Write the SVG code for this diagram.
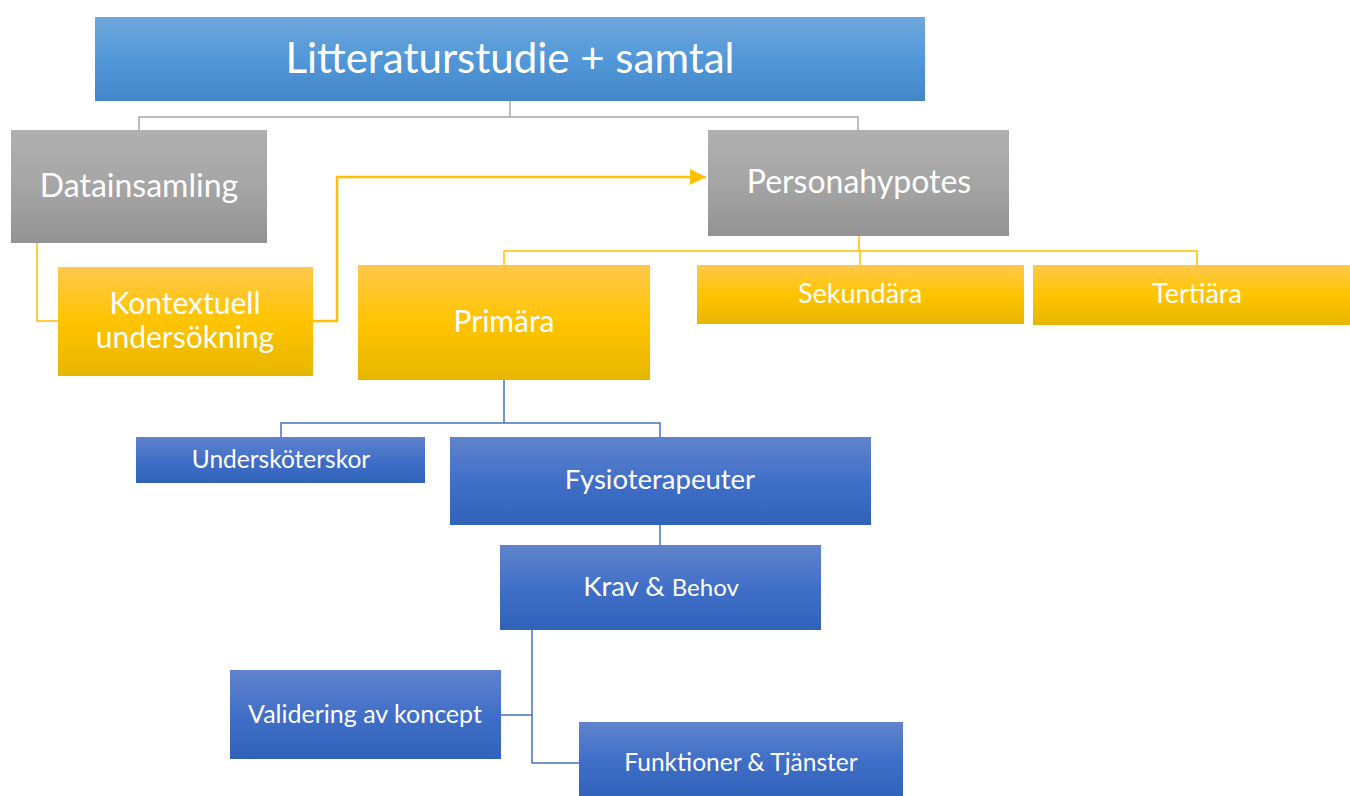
<svg xmlns="http://www.w3.org/2000/svg" width="1350" height="796" viewBox="0 0 1350 796">
<defs>
<linearGradient id="gBlueTop" x1="0" y1="0" x2="0" y2="1"><stop offset="0" stop-color="#6fa8dc"/><stop offset="0.5" stop-color="#5298d8"/><stop offset="1" stop-color="#4286c6"/></linearGradient>
<linearGradient id="gGray" x1="0" y1="0" x2="0" y2="1"><stop offset="0" stop-color="#b0b0b0"/><stop offset="0.5" stop-color="#a5a5a5"/><stop offset="1" stop-color="#939393"/></linearGradient>
<linearGradient id="gYel" x1="0" y1="0" x2="0" y2="1"><stop offset="0" stop-color="#ffc84c"/><stop offset="0.5" stop-color="#ffc400"/><stop offset="1" stop-color="#e6b600"/></linearGradient>
<linearGradient id="gBlue" x1="0" y1="0" x2="0" y2="1"><stop offset="0" stop-color="#6084cc"/><stop offset="0.5" stop-color="#416fc8"/><stop offset="1" stop-color="#3062b8"/></linearGradient>
<marker id="arr" viewBox="0 0 10 10" refX="10" refY="5" markerWidth="16" markerHeight="16" markerUnits="userSpaceOnUse" orient="auto"><path d="M0,0 L10,5 L0,10 z" fill="#ffc000"/></marker>
</defs>
<style>
text{font-family:"Lato","Liberation Sans",sans-serif;fill:#ffffff;text-anchor:middle}
.cg{fill:none;stroke:#a6a6a6;stroke-width:1.5}
.cy{fill:none;stroke:#ffc000;stroke-width:1.5}
.cy2{fill:none;stroke:#ffc000;stroke-width:2.5}
.cb{fill:none;stroke:#4472c4;stroke-width:1.5}
</style>
<rect width="1350" height="796" fill="#ffffff"/>
<g id="connectors">
<path class="cg" d="M510,101 V117 M139,130 V117 H858 V130"/>
<path class="cy" d="M37,243 V321 H58"/>
<path class="cy2" d="M313,321 H337 V177 H706" marker-end="url(#arr)"/>
<path class="cy" d="M859,236 V251 M504,265 V251 H1197 V265 M860,251 V265"/>
<path class="cb" d="M504,380 V423 M281,437 V423 H660 V437"/>
<path class="cb" d="M660,525 V545"/>
<path class="cb" d="M532,630 V763 H579 M501,715 H532"/>
</g>
<g id="n-litteratur"><rect x="95" y="17" width="830" height="84" fill="url(#gBlueTop)"/><text x="510" y="73" font-size="42">Litteraturstudie + samtal</text></g>
<g id="n-datainsamling"><rect x="11" y="130" width="256" height="113" fill="url(#gGray)"/><text x="139" y="197" font-size="32">Datainsamling</text></g>
<g id="n-personahypotes"><rect x="708" y="130" width="301" height="106" fill="url(#gGray)"/><text x="859" y="193" font-size="32">Personahypotes</text></g>
<g id="n-kontextuell"><rect x="58" y="267" width="255" height="109" fill="url(#gYel)"/><text x="185" y="314" font-size="30">Kontextuell</text><text x="185" y="348" font-size="30">undersökning</text></g>
<g id="n-primara"><rect x="358" y="265" width="292" height="115" fill="url(#gYel)"/><text x="504" y="332" font-size="30">Primära</text></g>
<g id="n-sekundara"><rect x="697" y="265" width="327" height="59" fill="url(#gYel)"/><text x="860" y="303" font-size="27">Sekundära</text></g>
<g id="n-tertiara"><rect x="1033" y="265" width="317" height="60" fill="url(#gYel)"/><text x="1197" y="303" font-size="27">Tertiära</text></g>
<g id="n-underskoterskor"><rect x="136" y="437" width="289" height="46" fill="url(#gBlue)"/><text x="281" y="468" font-size="24.5">Undersköterskor</text></g>
<g id="n-fysioterapeuter"><rect x="450" y="437" width="421" height="88" fill="url(#gBlue)"/><text x="660" y="489" font-size="27.5">Fysioterapeuter</text></g>
<g id="n-krav"><rect x="500" y="545" width="321" height="85" fill="url(#gBlue)"/><text x="661" y="596" font-size="27.5">Krav &amp; <tspan font-size="24">Behov</tspan></text></g>
<g id="n-validering"><rect x="230" y="670" width="271" height="89" fill="url(#gBlue)"/><text x="365" y="723" font-size="25">Validering av koncept</text></g>
<g id="n-funktioner"><rect x="579" y="722" width="324" height="74" fill="url(#gBlue)"/><text x="741" y="771" font-size="24.5">Funktioner &amp; Tjänster</text></g>
</svg>
